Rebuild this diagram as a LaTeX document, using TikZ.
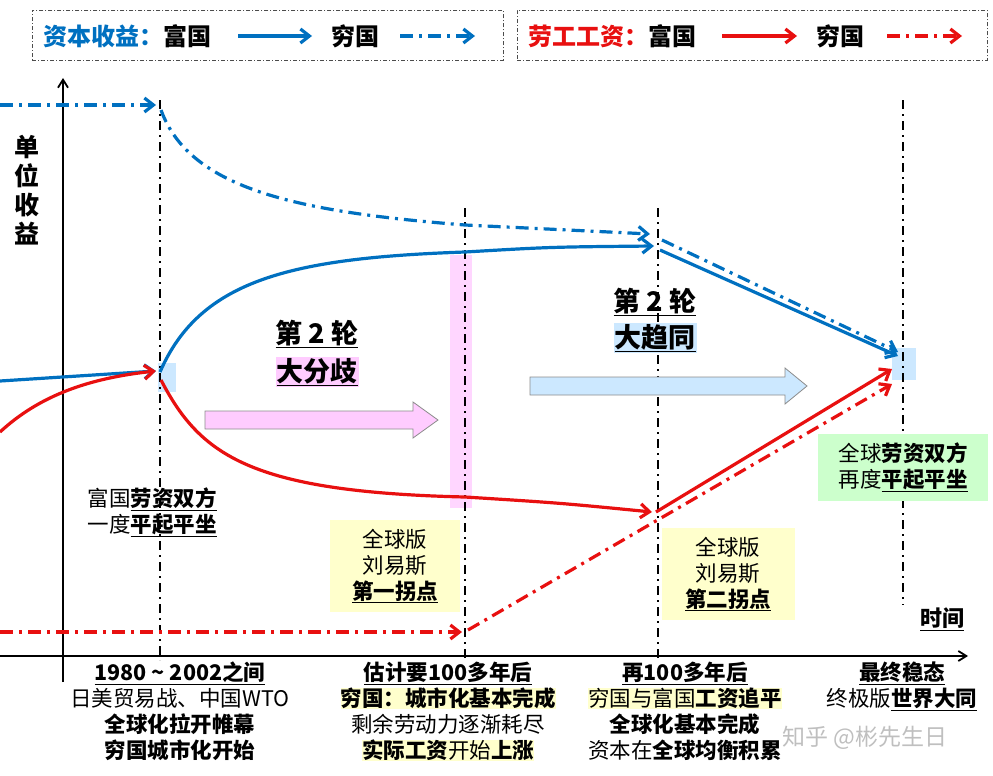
\documentclass[tikz,border=0pt]{standalone}
\usepackage{fontspec}
\setmainfont{Noto Sans CJK SC}
\usetikzlibrary{arrows.meta}
\definecolor{cblue}{RGB}{0,112,192}
\definecolor{cred}{RGB}{232,16,16}
\definecolor{hly}{RGB}{255,255,204}
\definecolor{hlg}{RGB}{204,255,204}
\definecolor{hlp}{RGB}{255,204,255}
\definecolor{hlb}{RGB}{204,232,255}
\newcommand{\hly}[1]{{\setlength{\fboxsep}{0pt}\colorbox{hly}{#1}}}
\newcommand{\bu}[1]{\underline{\textbf{#1}}}
\tikzset{
 lw/.style={line width=3.2pt},
 dd/.style={dash pattern=on 13pt off 6pt on 3pt off 6pt},
 tip/.style={-{Straight Barb[length=9pt,width=14pt]}},
 vl/.style={black,line width=1.6pt,dash pattern=on 9pt off 5pt on 2pt off 5pt},
 lg/.style={draw=black!70,line width=0.8pt,dash pattern=on 4pt off 2pt on 1pt off 2pt},
 tx/.style={font=\fontsize{21.5}{26}\selectfont,align=center,inner sep=1pt},
 fat/.style={draw=black!45,line width=0.8pt},
}
\begin{document}
\begin{tikzpicture}[x=1pt,y=-1pt]
\useasboundingbox (0,0) rectangle (993,776);
% legends
\node[lg,minimum width=471,minimum height=50,anchor=north west] (lg1) at (32,10) {};
\node[lg,minimum width=470,minimum height=50,anchor=north west] (lg2) at (517,10) {};
\node[font=\fontsize{24}{26}\selectfont\bfseries,anchor=west] (l1) at (40,36) {\textcolor{cblue}{资本收益：}富国};
\coordinate (l1a) at (238,36); \coordinate (l1b) at (312,36);
\draw[cblue,lw,tip] (l1a) -- (l1b);
\node[font=\fontsize{24}{26}\selectfont\bfseries] (l1c) at (355,36) {穷国};
\coordinate (l1d) at (400,36); \coordinate (l1e) at (475,36);
\draw[cblue,lw,dd,tip] (l1d) -- (l1e);
\node[font=\fontsize{24}{26}\selectfont\bfseries,anchor=west] (l2) at (525,36) {\textcolor{cred}{劳工工资：}富国};
\coordinate (l2a) at (722,36); \coordinate (l2b) at (797,36);
\draw[cred,lw,tip] (l2a) -- (l2b);
\node[font=\fontsize{24}{26}\selectfont\bfseries] (l2c) at (840,36) {穷国};
\coordinate (l2d) at (887,36); \coordinate (l2e) at (962,36);
\draw[cred,lw,dd,tip] (l2d) -- (l2e);
% highlights
\fill[hlp,opacity=0.8] (450,255) rectangle (472,508);
\fill[hlb] (158,363) rectangle (176,392);
\fill[hlb] (892,348) rectangle (916,380);
% axes
\coordinate (yb) at (63,682); \coordinate (yt) at (63,78);
\draw[line width=1.8pt,-{Straight Barb[length=8pt,width=10pt]}] (yb) -- (yt);
\coordinate (xb) at (0,656); \coordinate (xt) at (968,656);
\draw[line width=1.8pt,-{Straight Barb[length=8pt,width=10pt]}] (xb) -- (xt);
\node[font=\fontsize{25}{29}\selectfont\bfseries,align=center] (yl) at (27,190) {单\\位\\收\\益};
% vertical lines
\coordinate (v1a) at (160,100); \coordinate (v1b) at (160,660);
\coordinate (v2a) at (465,208); \coordinate (v2b) at (465,660);
\coordinate (v3a) at (658,208); \coordinate (v3b) at (658,660);
\coordinate (v4a) at (903,100); \coordinate (v4b) at (903,605);
\draw[vl] (v1a)--(v1b); \draw[vl] (v2a)--(v2b); \draw[vl] (v3a)--(v3b); \draw[vl] (v4a)--(v4b);
% fat arrows
\draw[fat,fill=hlp] (205,411) -- (413,411) -- (413,402) -- (438,420) -- (413,438) -- (413,429) -- (205,429) -- cycle;
\draw[fat,fill=hlb] (530,377) -- (785,377) -- (785,368) -- (807,386) -- (785,404) -- (785,395) -- (530,395) -- cycle;
% curves
\coordinate (a0) at (0,105); \coordinate (a1) at (156,105);
\draw[cblue,lw,dd,tip] (a0) -- (a1);
\coordinate (a2) at (161,110); \coordinate (a3) at (465,225); \coordinate (a4) at (650,234);
\draw[cblue,lw,dd,tip] (a2) .. controls (190,190) and (300,212) .. (a3) -- (a4);
\coordinate (a5) at (662,240); \coordinate (a6) at (898,352);
\draw[cblue,lw,dd,tip] (a5) -- (a6);
\coordinate (b0) at (0,381); \coordinate (b1) at (156,371);
\draw[cblue,lw,tip] (b0) -- (b1);
\coordinate (b2) at (160,372); \coordinate (b3) at (465,252); \coordinate (b4) at (654,246);
\draw[cblue,lw,tip] (b2) .. controls (200,280) and (290,258) .. (b3) .. controls (550,247) .. (b4);
\coordinate (b5) at (660,250); \coordinate (b6) at (898,356);
\draw[cblue,lw,tip] (b5) -- (b6);
\coordinate (c0) at (0,432); \coordinate (c1) at (156,371);
\draw[cred,lw,tip] (c0) .. controls (40,395) and (90,378) .. (c1);
\coordinate (c2) at (161,380); \coordinate (c3) at (465,497); \coordinate (c4) at (652,512);
\draw[cred,lw,tip] (c2) .. controls (200,455) and (250,492) .. (c3) .. controls (560,503) .. (c4);
\coordinate (c5) at (656,512); \coordinate (c6) at (892,369);
\draw[cred,lw,tip] (c5) -- (c6);
\coordinate (d0) at (0,632); \coordinate (d1) at (462,632);
\draw[cred,lw,dd,tip] (d0) -- (d1);
\coordinate (d2) at (468,630); \coordinate (d3) at (892,384);
\draw[cred,lw,dd,tip] (d2) -- (d3);
% labels
\node[font=\fontsize{27}{30}\selectfont\bfseries] (t1) at (317,334) {\underline{第 2 轮}};
\node[font=\fontsize{27}{30}\selectfont\bfseries,fill=hlp,inner sep=1pt] (t2) at (317,372) {\underline{大分歧}};
\node[font=\fontsize{27}{30}\selectfont\bfseries] (t3) at (655,302) {\underline{第 2 轮}};
\node[font=\fontsize{27}{30}\selectfont\bfseries,fill=hlb,inner sep=1pt] (t4) at (655,338) {\underline{大趋同}};
\node[tx] (r1) at (152,512) {富国\bu{劳资双方}\\一度\bu{平起平坐}};
\node[tx,fill=hly,minimum width=130,minimum height=92] (y1) at (395,566) {全球版\\刘易斯\\\bu{第一拐点}};
\node[tx,fill=hly,minimum width=133,minimum height=92] (y2) at (728,574) {全球版\\刘易斯\\\bu{第二拐点}};
\node[tx,fill=hlg,minimum width=170,minimum height=67] (g1) at (903,467) {全球\textbf{劳资双方}\\再度\bu{平起平坐}};
\node[tx,font=\fontsize{22}{25}\selectfont\bfseries] (sj) at (942,619) {\underline{时间}};
% bottom
\node[tx,anchor=north] (x1) at (180,661) {\bu{1980 \textasciitilde{} 2002之间}\\日美贸易战、中国WTO\\\textbf{全球化拉开帷幕}\\\textbf{穷国城市化开始}};
\node[tx,anchor=north] (x2) at (448,661) {\bu{估计要100多年后}\\\hly{\textbf{穷国：城市化基本完成}}\\剩余劳动力逐渐耗尽\\\hly{\textbf{实际工资}开始\textbf{上涨}}};
\node[tx,anchor=north] (x3) at (685,661) {\bu{再100多年后}\\\hly{穷国与富国\textbf{工资追平}}\\\textbf{全球化基本完成}\\资本在\textbf{全球均衡积累}};
\node[tx,anchor=north] (x4) at (902,661) {\bu{最终稳态}\\终极版\bu{世界大同}};
\node[font=\fontsize{23}{26}\selectfont,text=black!25] (wm) at (865,738) {知乎 @彬先生日};
\end{tikzpicture}
\end{document}
